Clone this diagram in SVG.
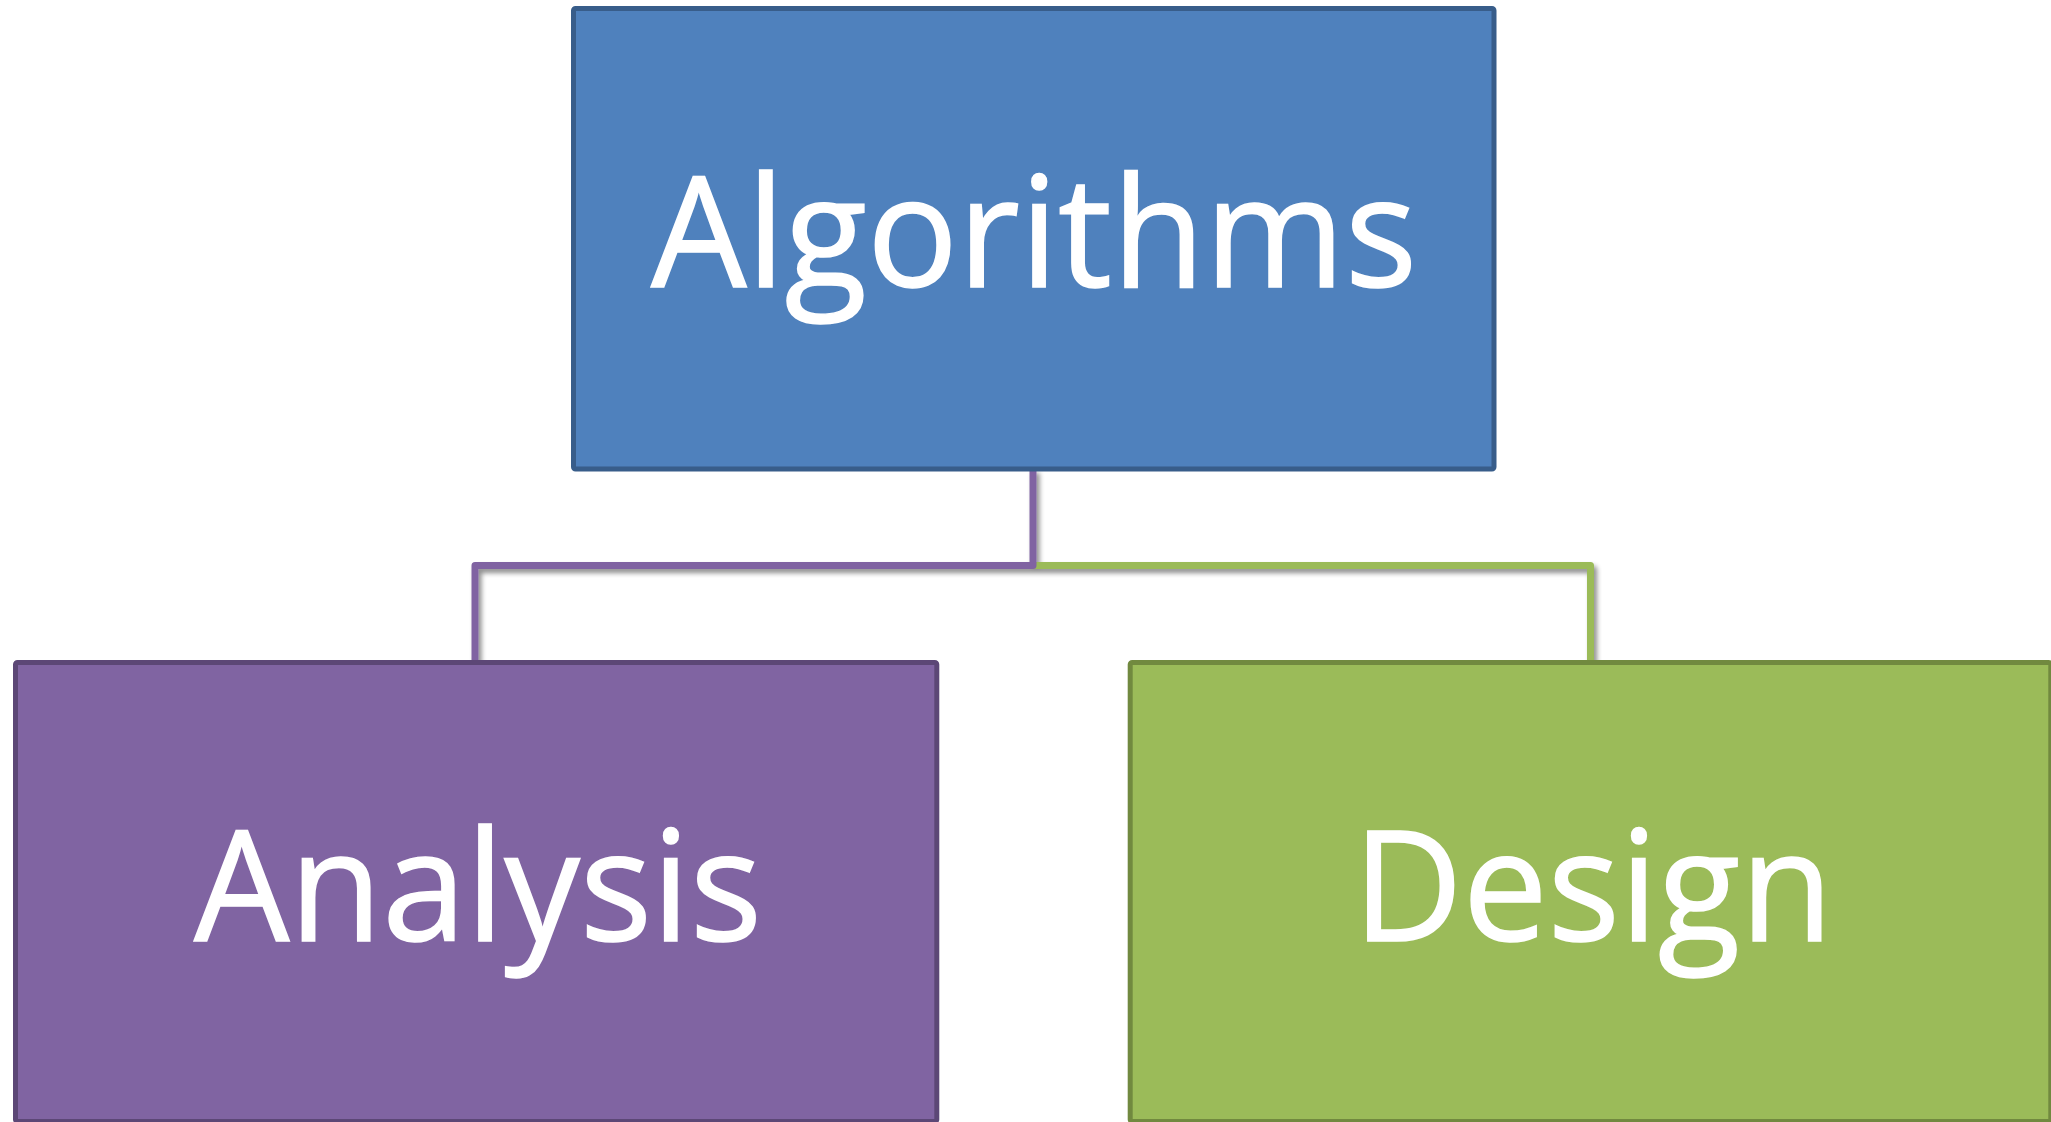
<svg xmlns="http://www.w3.org/2000/svg" width="2051" height="1122" viewBox="0 0 2051 1122">
  <defs>
    <filter id="soft-shadow" x="-5%" y="-5%" width="110%" height="110%">
      <feGaussianBlur in="SourceAlpha" stdDeviation="2.5"/>
      <feOffset dx="3" dy="4" result="blur"/>
      <feComponentTransfer><feFuncA type="linear" slope="0.45"/></feComponentTransfer>
      <feMerge><feMergeNode/><feMergeNode in="SourceGraphic"/></feMerge>
    </filter>
  </defs>
  <style>
    .box { stroke-width: 5; }
    .root { fill: #4F81BD; stroke: #385D8A; }
    .left { fill: #8064A2; stroke: #5C4776; }
    .right { fill: #9BBB59; stroke: #71893F; }
    .label { font-family: "Open Sans", "Noto Sans", sans-serif; font-size: 154px; fill: #FFFFFF; stroke: #FFFFFF; stroke-width: 1.5; text-anchor: middle; }
    .wire { fill: none; stroke-width: 7; stroke-linejoin: round; }
  </style>

  <rect width="2051" height="1122" fill="#FFFFFF"/>

  <!-- connectors: root to children -->
  <g id="connectors" filter="url(#soft-shadow)">
    <path class="wire" stroke="#9BBB59" d="M1033 565.5 H1590.5 V662"/>
    <path class="wire" stroke="#8064A2" d="M1033 469 V565.5 H475 V662"/>
  </g>

  <!-- root node -->
  <g id="node-algorithms">
    <rect class="box root" x="573.5" y="8.5" width="920.5" height="460.5" rx="2"/>
    <text class="label" x="1034" y="287" textLength="766" lengthAdjust="spacingAndGlyphs">Algorithms</text>
  </g>

  <!-- child: Analysis -->
  <g id="node-analysis">
    <rect class="box left" x="15.5" y="662.5" width="921.3" height="459" rx="2"/>
    <text class="label" x="478" y="941" textLength="568" lengthAdjust="spacingAndGlyphs">Analysis</text>
  </g>

  <!-- child: Design -->
  <g id="node-design">
    <rect class="box right" x="1130.2" y="662.5" width="920.6" height="459" rx="2"/>
    <text class="label" x="1593" y="941" textLength="480" lengthAdjust="spacingAndGlyphs">Design</text>
  </g>
</svg>
